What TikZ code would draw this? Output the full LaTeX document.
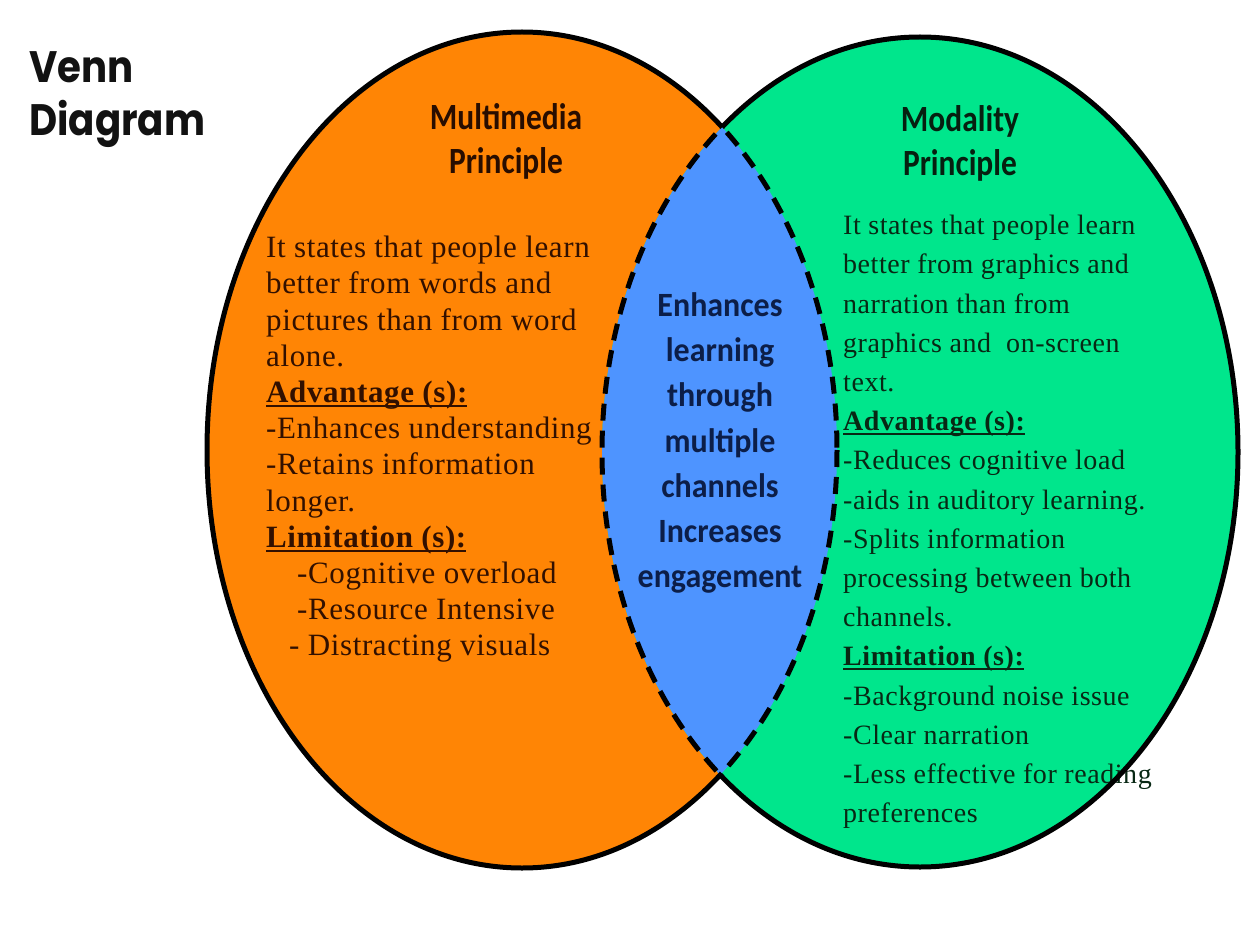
\documentclass[tikz,border=0pt]{standalone}
\usepackage{fontspec}
\setmainfont{Liberation Serif}[LetterSpace=2]
\newfontfamily\titlefont{Poppins}[FakeStretch=0.88]
\newfontfamily\headfont{Carlito}[FakeStretch=0.85]
\newfontfamily\lensfont{Carlito}[FakeStretch=0.94]

\definecolor{mmorange}{RGB}{255,133,5}
\definecolor{mogreen}{RGB}{0,230,140}
\definecolor{lensblue}{RGB}{78,148,255}
\definecolor{mmink}{RGB}{50,16,0}
\definecolor{moink}{RGB}{8,40,20}
\definecolor{lensink}{RGB}{12,30,72}

\newcommand\multpath{(522,450) ellipse [x radius=315, y radius=418]}
\newcommand\modpath{(920,452) ellipse [x radius=318, y radius=415]}
\newcommand\subhead[1]{\setbox0\hbox{\bfseries #1}\rlap{\rule[-4.5pt]{\wd0}{2.2pt}}\box0}

\tikzset{
  outline/.style={line width=5pt, black},
  lensline/.style={line width=5pt, black, dash pattern=on 17pt off 10pt},
  bodytext/.style={anchor=north west, inner sep=0pt, align=left},
  headtext/.style={inner sep=0pt, align=center, font=\headfont\bfseries\fontsize{37}{44}\selectfont},
}

\begin{document}
\begin{tikzpicture}[x=1pt,y=-1pt]
\useasboundingbox (0,0) rectangle (1256,928);
\fill[white] (0,0) rectangle (1256,928);

% the two sets and their overlap
\fill[mmorange] \multpath;
\fill[mogreen]  \modpath;
\begin{scope}
  \clip \multpath;
  \fill[lensblue] \modpath;
\end{scope}

\node[anchor=north west, inner sep=0pt, align=left, text=black!93,
      font=\titlefont\bfseries\fontsize{44}{53}\selectfont] (venn) at (29,51) {Venn\\Diagram};

\node[headtext, text=mmink!80!black] (mmhead) at (506,141) {Multimedia\\Principle};
\node[headtext, text=moink!80!black] (mohead) at (960,143) {Modality\\Principle};

\node[bodytext, text=mmink, font=\fontsize{31}{36.2}\selectfont] (mmbody) at (266,236) {%
It states that people learn\\
better from words and\\
pictures than from word\\
alone.\\
\subhead{Advantage (s):}\\
-Enhances understanding\\
-Retains information\\
longer.\\
\subhead{Limitation (s):}\\
\hspace*{31pt}-Cognitive overload\\
\hspace*{31pt}-Resource Intensive\\
\hspace*{23pt}- Distracting visuals};

\node[bodytext, text=moink, font=\fontsize{28}{39.2}\selectfont] (mobody) at (843,215) {%
It states that people learn\\
better from graphics and\\
narration than from\\
graphics and\ \ on-screen\\
text.\\
\subhead{Advantage (s):}\\
-Reduces cognitive load\\
-aids in auditory learning.\\
-Splits information\\
processing between both\\
channels.\\
\subhead{Limitation (s):}\\
-Background noise issue\\
-Clear narration\\
-Less effective for reading\\
preferences};

\node[inner sep=0pt, align=center, text=lensink,
      font=\lensfont\bfseries\fontsize{34}{45.3}\selectfont] (lenstxt) at (720,443) {%
Enhances\\learning\\through\\multiple\\channels\\Increases\\engagement};

% solid outer rims
\begin{scope}[even odd rule]
  \clip (-20,-20) rectangle (1280,950) \modpath;
  \draw[outline] \multpath;
\end{scope}
\begin{scope}[even odd rule]
  \clip (-20,-20) rectangle (1280,950) \multpath;
  \draw[outline] \modpath;
\end{scope}

% dashed rims of the overlap
\begin{scope}
  \clip \modpath;
  \draw[lensline] \multpath;
\end{scope}
\begin{scope}
  \clip \multpath;
  \draw[lensline] \modpath;
\end{scope}

\end{tikzpicture}
\end{document}
